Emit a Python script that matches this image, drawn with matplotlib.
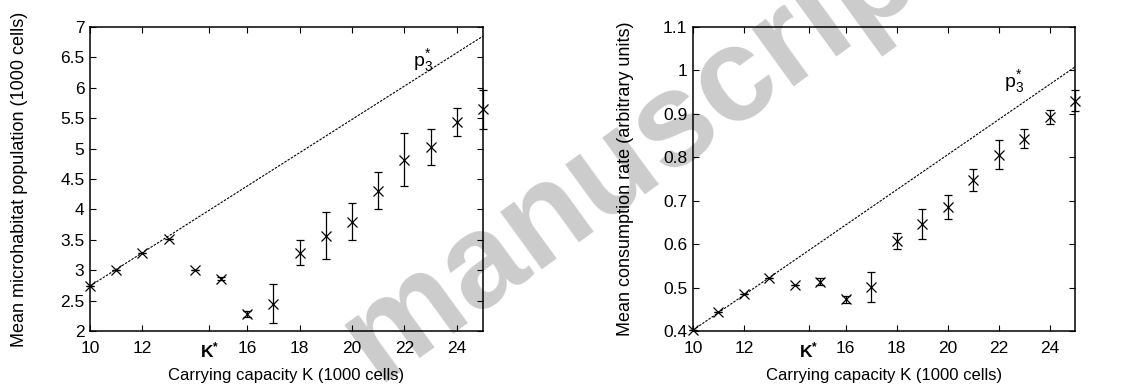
import numpy as np
import matplotlib
matplotlib.use("Agg")
import matplotlib.pyplot as plt

plt.rcParams['font.family'] = ['Liberation Sans', 'DejaVu Sans']
plt.rcParams['mathtext.fontset'] = 'custom'
plt.rcParams['mathtext.rm'] = 'Liberation Sans'
plt.rcParams['mathtext.it'] = 'Liberation Sans'
plt.rcParams['mathtext.bf'] = 'Liberation Sans:bold'

# carrying capacity K (1000 cells)
K = [10, 11, 12, 13, 14, 15, 16, 17, 18, 19, 20, 21, 22, 23, 24, 25]
K_STAR = 14.55

# left: mean microhabitat population (1000 cells)
pop_mean = [2.74, 3.01, 3.29, 3.51, 3.00, 2.86, 2.28, 2.45, 3.29, 3.57,
            3.80, 4.31, 4.82, 5.03, 5.43, 5.65]
pop_err = [0.0, 0.0, 0.0, 0.0, 0.0, 0.02, 0.05, 0.32, 0.21, 0.38,
           0.30, 0.30, 0.43, 0.30, 0.23, 0.32]
pop_line_k = [10, 25]
pop_line = [2.74, 6.85]

# right: mean consumption rate (arbitrary units)
rate_mean = [0.402, 0.444, 0.485, 0.523, 0.507, 0.513, 0.473, 0.502, 0.607, 0.646,
             0.686, 0.747, 0.806, 0.843, 0.893, 0.930]
rate_err = [0.0, 0.0, 0.0, 0.0, 0.0, 0.008, 0.008, 0.035, 0.018, 0.035,
            0.027, 0.025, 0.033, 0.022, 0.017, 0.024]
rate_line_k = [10, 25]
rate_line = [0.402, 1.008]

x_ticks = [10, 12, K_STAR, 16, 18, 20, 22, 24]
x_labels = ['10', '12', r'$\mathbf{K}^{\mathbf{*}}$', '16', '18', '20', '22', '24']

fig = plt.figure(figsize=(11.38, 3.92), dpi=100)

# watermark, behind the axes
fig.text(378 / 1138, 1 - 382 / 392, 'manuscript', fontsize=96,
         fontweight='bold', color='#cccccc', rotation=36,
         rotation_mode='anchor', ha='left', va='baseline', zorder=-1)

ax1 = fig.add_axes([90 / 1138, 1 - 331 / 392, 393 / 1138, 304 / 392])
ax2 = fig.add_axes([693 / 1138, 1 - 331 / 392, 382 / 1138, 304 / 392])


def draw_panel(ax, mean, err, line_k, line_v, ylim, yticks, ylabel, p_pos,
               ylab_x):
    ax.set_facecolor('none')
    ax.plot(line_k, line_v, color='black', lw=0.8, dashes=(2.2, 1.2), zorder=2)
    ax.errorbar(K, mean, yerr=err, fmt='x', color='black', ms=7, mew=0.9,
                elinewidth=0.9, capsize=3.2, capthick=0.9, zorder=3,
                clip_on=False)
    ax.set_xlim(10, 25)
    ax.set_ylim(*ylim)
    ax.set_xticks(x_ticks)
    ax.set_xticklabels(x_labels)
    ax.set_yticks(yticks)
    ax.set_yticklabels(['%g' % v for v in yticks])
    ax.tick_params(direction='in', top=True, right=True, length=4, width=0.8,
                   labelsize=12.5)
    ax.tick_params(axis='y', pad=4)
    ax.tick_params(axis='x', pad=7)
    for sp in ax.spines.values():
        sp.set_linewidth(1.1)
    ax.set_xlabel('Carrying capacity K (1000 cells)', fontsize=12)
    ax.xaxis.set_label_coords(0.5, -0.122)
    ax.set_ylabel(ylabel, fontsize=13)
    ax.yaxis.set_label_coords(ylab_x, 0.5)
    ax.text(p_pos[0], p_pos[1], r'$\mathrm{p}_3^{*}$', fontsize=14,
            ha='center', va='center')


draw_panel(ax1, pop_mean, pop_err, pop_line_k, pop_line, (2, 7),
           [2, 2.5, 3, 3.5, 4, 4.5, 5, 5.5, 6, 6.5, 7],
           'Mean microhabitat population (1000 cells)', (22.7, 6.45), -0.158)
draw_panel(ax2, rate_mean, rate_err, rate_line_k, rate_line, (0.4, 1.1),
           [0.4, 0.5, 0.6, 0.7, 0.8, 0.9, 1.0, 1.1],
           'Mean consumption rate (arbitrary units)', (22.6, 0.975), -0.154)

fig.savefig('out.png', dpi=100)
